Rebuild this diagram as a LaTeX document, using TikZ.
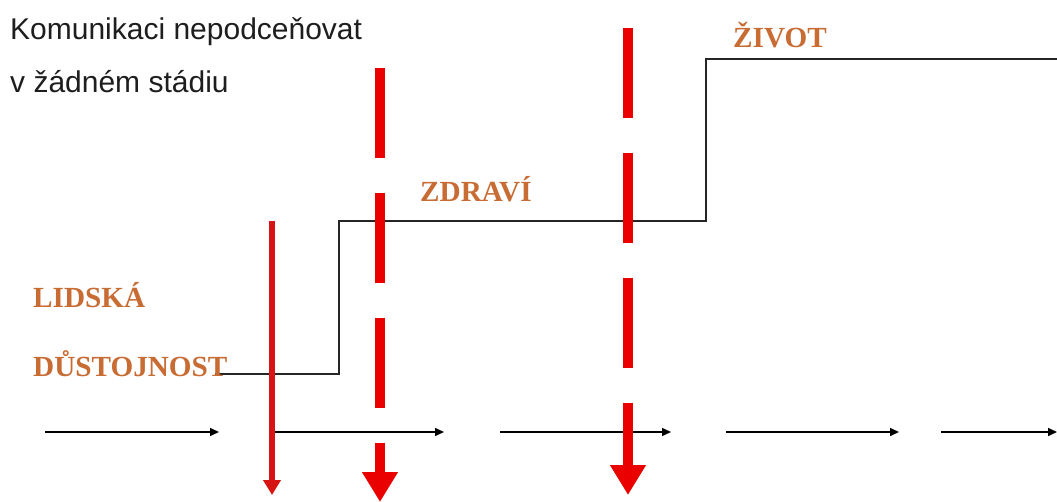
\documentclass[tikz,border=0pt]{standalone}
\usepackage{fontspec}
\setmainfont{Liberation Serif}
\newfontfamily\arialfont{Liberation Sans}
\usetikzlibrary{arrows.meta}
\definecolor{lblorange}{RGB}{200,108,52}
\definecolor{txtgray}{RGB}{30,30,30}
\definecolor{myred}{RGB}{235,0,0}
\definecolor{darkred}{RGB}{215,20,20}
\begin{document}
\begin{tikzpicture}[x=1pt,y=-1pt,
  note/.style={anchor=base west,inner sep=0pt,text=txtgray,font=\arialfont\fontsize{30}{34}\selectfont},
  lbl/.style={anchor=base west,inner sep=0pt,text=lblorange,font=\bfseries\fontsize{29.2}{32}\selectfont},
  stepline/.style={draw=black!85,line width=1.5pt},
  timearrow/.style={draw=black,line width=1.5pt,-{Triangle[length=9pt,width=8pt]}},
  dashedcut/.style={draw=myred,line width=10pt,dash pattern=on 90pt off 35pt,-{Triangle[length=30pt,width=34pt]}},
  solidcut/.style={draw=darkred,line width=5.5pt,-{Triangle[length=15pt,width=17pt]}}]
\useasboundingbox[fill=white] (0,0) rectangle (1057,502);

% step line
\coordinate (s0) at (215,374);
\coordinate (s1) at (339,374);
\coordinate (s2) at (339,221);
\coordinate (s3) at (706,221);
\coordinate (s4) at (706,59);
\coordinate (s5) at (1057,59);
\draw[stepline] (s0) -- (s1) -- (s2) -- (s3) -- (s4) -- (s5);

% horizontal time arrows
\coordinate (a1s) at (45,432);  \coordinate (a1e) at (219,432);
\coordinate (a2s) at (275,432); \coordinate (a2e) at (444,432);
\coordinate (a3s) at (500,432); \coordinate (a3e) at (671,432);
\coordinate (a4s) at (726,432); \coordinate (a4e) at (899,432);
\coordinate (a5s) at (941,432); \coordinate (a5e) at (1057,432);
\draw[timearrow] (a1s) -- (a1e);
\draw[timearrow] (a2s) -- (a2e);
\draw[timearrow] (a3s) -- (a3e);
\draw[timearrow] (a4s) -- (a4e);
\draw[timearrow] (a5s) -- (a5e);

% red cuts
\coordinate (r1s) at (272,221); \coordinate (r1e) at (272,495);
\draw[solidcut] (r1s) -- (r1e);
\coordinate (r2s) at (380,68); \coordinate (r2e) at (380,502);
\draw[dashedcut] (r2s) -- (r2e);
\coordinate (r3s) at (628,28); \coordinate (r3e) at (628,495);
\draw[dashedcut] (r3s) -- (r3e);

% texts
\node[note] (n1) at (10,40) {Komunikaci nepodceňovat};
\node[note] (n2) at (10,93) {v žádném stádiu};
\node[lbl] (l1) at (33,308) {LIDSKÁ};
\node[lbl] (l2) at (33,377) {DŮSTOJNOST};
\node[lbl] (l3) at (420,202) {ZDRAVÍ};
\node[lbl] (l4) at (733,48) {ŽIVOT};
\end{tikzpicture}
\end{document}
